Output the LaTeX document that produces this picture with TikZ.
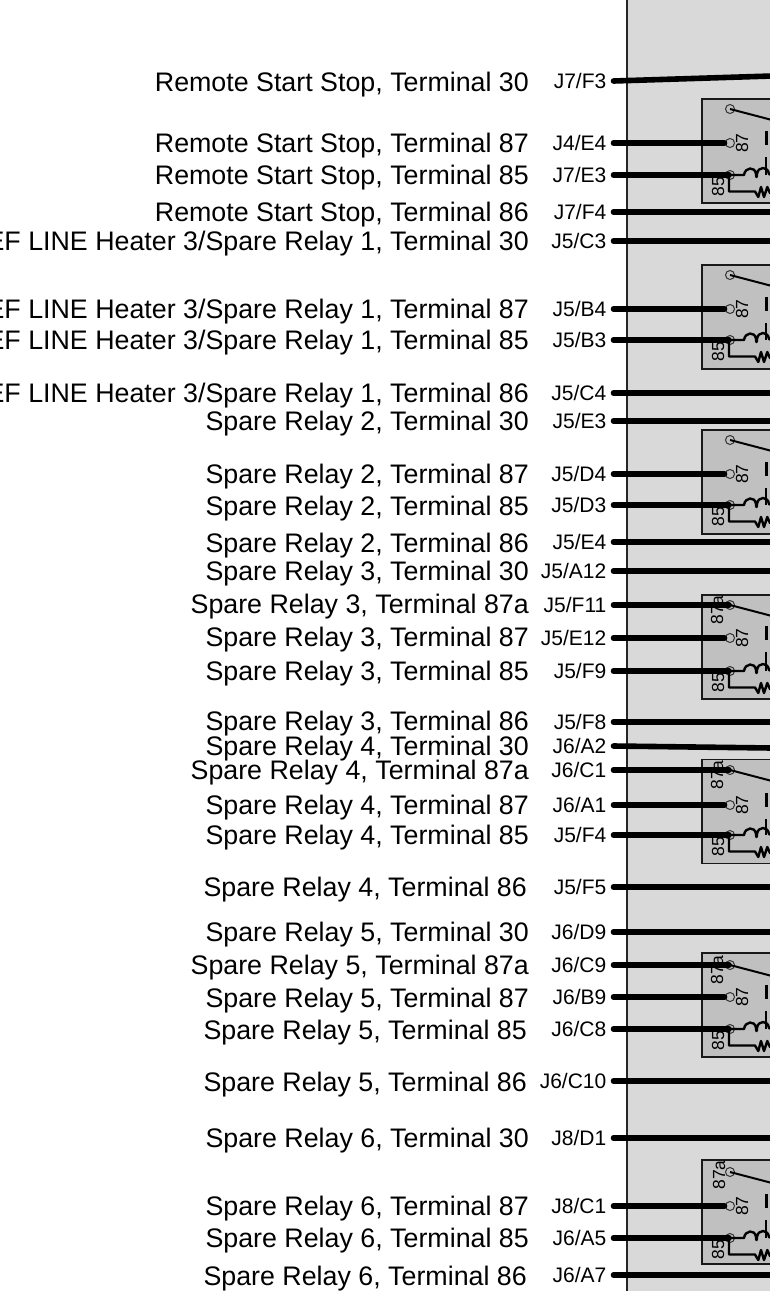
\documentclass[tikz,border=0pt]{standalone}
\usepackage{fontspec}
\setmainfont{Liberation Sans}
\tikzset{
 x=1pt,y=-1pt,
 wire/.style={line width=5.6pt,line cap=round,black},
 thinw/.style={line width=2.4pt,black,line join=round},
 term/.style={draw=black!80,line width=1pt,circle,inner sep=0pt,minimum size=9pt},
 desc/.style={anchor=base east,inner sep=0pt,font=\fontsize{26.8}{28}\selectfont},
 pin/.style={anchor=base east,inner sep=0pt,font=\fontsize{21}{23}\selectfont},
 tnum/.style={inner sep=0pt,rotate=90,font=\fontsize{17.5}{18}\selectfont,text=black},
 boxr/.style={draw=black!90,line width=1.5pt,fill=boxgray},
}
\definecolor{panel}{HTML}{D9D9D9}
\definecolor{boxgray}{HTML}{C0C0C0}
% \relayunit{name}{y top}{offset 30}{offset 87}{offset 85}{87a label}
\newcommand{\relayunit}[6]{%
 \path[boxr] (702,#2) rectangle (772,#2+104);
 \node[term] (#1-30) at (730,#2+#3) {};
 \node[term] (#1-87) at (730,#2+#4) {};
 \node[term] (#1-85) at (730,#2+#5) {};
 \node[tnum] (#1-l87) at (742,#2+#4) {87};
 \node[tnum] (#1-l85) at (718,#2+#5+11.5) {85};
 #6
 \draw[line width=2pt,black] (#1-30.center) -- (772,#2+#3+11);
 \draw[line width=3pt,black] (766,#2+#4-12) -- (766,#2+#4+2);
 \draw[line width=2.4pt,black] (766,#2+#4+14) -- (766,#2+#5);
 \draw[thinw] (729,#2+#5) -- (744,#2+#5)
   .. controls (745,#2+#5-8) and (755,#2+#5-9) .. (756,#2+#5-1)
   .. controls (756,#2+#5+3) and (757,#2+#5+3) .. (757,#2+#5-1)
   .. controls (758,#2+#5-9) and (768,#2+#5-9) .. (769,#2+#5-1)
   -- (772,#2+#5);
 \draw[thinw] (729,#2+#5) -- (729,#2+#5+16.5) -- (755,#2+#5+16.5)
   -- (758.3,#2+#5+22) -- (761,#2+#5+12) -- (764,#2+#5+22) -- (767.3,#2+#5+12) -- (770,#2+#5+18) -- (772,#2+#5+16);
}
% \rowtxt{id}{wire y}{description}{pin}{description right edge}{description y}
\newcommand{\rowtxt}[6]{%
 \node[desc] (d#1) at (#5,#6+9.5) {#3};
 \node[pin] (p#1) at (606.5,#2+7.5) {#4};
 \coordinate (s#1) at (613.5,#2);
}
\begin{document}
\begin{tikzpicture}
\useasboundingbox (0,0) rectangle (770,1291);
\begin{scope}
\clip (0,0) rectangle (770,1291);
\fill[white] (0,0) rectangle (770,1291);
\fill[panel] (627,-2) rectangle (772,1293);
\draw[black!85,line width=2pt] (627,-2) -- (627,1293);

\relayunit{ra}{99}{10}{44}{76}{}
\relayunit{rb}{265}{10}{44}{75}{}
\relayunit{rc}{430}{10}{44}{75}{}
\relayunit{rd}{595}{10}{43}{76}{\node[tnum] (rd-l) at (717,595+15) {87a};}
\relayunit{re}{759.5}{10.5}{45.5}{75.5}{\node[tnum] (re-l) at (717,759.5+15.5) {87a};}
\relayunit{rf}{953}{12}{44}{76}{\node[tnum] (rf-l) at (717,953+17) {87a};}
\relayunit{rg}{1160}{12}{46}{78}{\node[tnum] (rg-l) at (719,1160+15) {87a};}

\rowtxt{01}{81}{Remote Start Stop, Terminal 30}{J7/F3}{529}{82}
\rowtxt{02}{143}{Remote Start Stop, Terminal 87}{J4/E4}{529}{143}
\rowtxt{03}{175}{Remote Start Stop, Terminal 85}{J7/E3}{529}{175}
\rowtxt{04}{212}{Remote Start Stop, Terminal 86}{J7/F4}{529}{212}
\rowtxt{05}{241}{REF LINE Heater 3/Spare Relay 1, Terminal 30}{J5/C3}{529}{241}
\rowtxt{06}{309}{REF LINE Heater 3/Spare Relay 1, Terminal 87}{J5/B4}{529}{309}
\rowtxt{07}{340}{REF LINE Heater 3/Spare Relay 1, Terminal 85}{J5/B3}{529}{340}
\rowtxt{08}{393}{REF LINE Heater 3/Spare Relay 1, Terminal 86}{J5/C4}{529}{393}
\rowtxt{09}{421}{Spare Relay 2, Terminal 30}{J5/E3}{529}{421}
\rowtxt{10}{474}{Spare Relay 2, Terminal 87}{J5/D4}{529}{474}
\rowtxt{11}{505}{Spare Relay 2, Terminal 85}{J5/D3}{529}{506}
\rowtxt{12}{542}{Spare Relay 2, Terminal 86}{J5/E4}{529}{543}
\rowtxt{13}{571}{Spare Relay 3, Terminal 30}{J5/A12}{529}{571}
\rowtxt{14}{605}{Spare Relay 3, Terminal 87a}{J5/F11}{529}{604}
\rowtxt{15}{638}{Spare Relay 3, Terminal 87}{J5/E12}{529}{637}
\rowtxt{16}{671}{Spare Relay 3, Terminal 85}{J5/F9}{529}{671}
\rowtxt{17}{722}{Spare Relay 3, Terminal 86}{J5/F8}{529}{721}
\rowtxt{18}{746}{Spare Relay 4, Terminal 30}{J6/A2}{529}{746}
\rowtxt{19}{770}{Spare Relay 4, Terminal 87a}{J6/C1}{529}{770}
\rowtxt{20}{805}{Spare Relay 4, Terminal 87}{J6/A1}{529}{805}
\rowtxt{21}{835}{Spare Relay 4, Terminal 85}{J5/F4}{529}{835}
\rowtxt{22}{887}{Spare Relay 4, Terminal 86}{J5/F5}{527}{887}
\rowtxt{23}{932}{Spare Relay 5, Terminal 30}{J6/D9}{529}{932}
\rowtxt{24}{965}{Spare Relay 5, Terminal 87a}{J6/C9}{529}{965}
\rowtxt{25}{997}{Spare Relay 5, Terminal 87}{J6/B9}{529}{998}
\rowtxt{26}{1029}{Spare Relay 5, Terminal 85}{J6/C8}{527}{1030}
\rowtxt{27}{1081}{Spare Relay 5, Terminal 86}{J6/C10}{527}{1082}
\rowtxt{28}{1138}{Spare Relay 6, Terminal 30}{J8/D1}{529}{1138}
\rowtxt{29}{1206}{Spare Relay 6, Terminal 87}{J8/C1}{529}{1206}
\rowtxt{30}{1238}{Spare Relay 6, Terminal 85}{J6/A5}{529}{1238}
\rowtxt{31}{1275}{Spare Relay 6, Terminal 86}{J6/A7}{527}{1276}

% free right ends of the through wires
\coordinate (e01) at (772,76);
\coordinate (e04) at (772,212);
\coordinate (e05) at (772,241);
\coordinate (e08) at (772,393);
\coordinate (e09) at (772,421);
\coordinate (e12) at (772,542);
\coordinate (e13) at (772,571);
\coordinate (e17) at (772,722);
\coordinate (e18) at (772,748);
\coordinate (e22) at (772,887);
\coordinate (e23) at (772,932);
\coordinate (e27) at (772,1081);
\coordinate (e28) at (772,1138);
\coordinate (e31) at (772,1275);

\foreach \i in {01,04,05,08,09,12,13,17,18,22,23,27,28,31}
  \draw[wire] (s\i) -- (e\i);
% wires onto terminals 87 stop at the left of the ring
\foreach \i/\t in {02/ra-87,06/rb-87,10/rc-87,15/rd-87,20/re-87,25/rf-87,29/rg-87}
  \draw[wire] (s\i) -- ([xshift=-5.5pt]\t.center);
% wires onto terminals 30 and 85 run into the ring
\foreach \i/\t in {03/ra-85,07/rb-85,11/rc-85,14/rd-30,16/rd-85,19/re-30,21/re-85,24/rf-30,26/rf-85,30/rg-85}
  \draw[wire] (s\i) -- ([xshift=-1pt]\t.center);
\end{scope}
\end{tikzpicture}
\end{document}
